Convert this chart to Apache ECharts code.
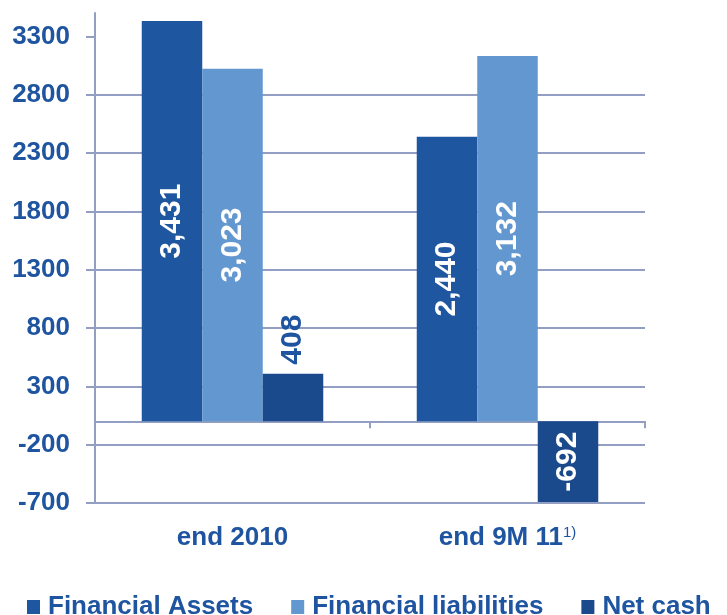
<!DOCTYPE html>
<html>
<head>
<meta charset="utf-8">
<script src="https://cdn.jsdelivr.net/npm/echarts@6/dist/echarts.min.js"></script>
<style>
  html, body { margin: 0; padding: 0; background: #fff; }
  #chart { width: 727px; height: 615px; }
</style>
</head>
<body>
<div id="chart"></div>
<script>
var categories = ['end 2010', 'end 9M 11'];
var categoryNotes = ['', '1)'];
var financialAssets = [3431, 2440];
var financialLiabilities = [3023, 3132];
var netCash = [408, -692];
var yTicks = [-700, -200, 300, 800, 1300, 1800, 2300, 2800, 3300];

var textBlue = '#1f55a0';
var gridColor = '#929fc2';
var font = 'Liberation Sans, Arial, sans-serif';

var chart = echarts.init(document.getElementById('chart'), null, { renderer: 'canvas' });

function fmt(v) {
  return Number(v).toLocaleString('en-US');
}

// inside labels, white, rotated
var insideLabel = {
  show: true,
  position: 'inside',
  rotate: 90,
  color: '#fff',
  fontSize: 30,
  fontWeight: 'bold',
  fontFamily: font,
  formatter: function (p) { return fmt(p.value); }
};

// net cash: positive sits above the bar, negative inside
var netCashData = netCash.map(function (v) {
  if (v >= 0) {
    return {
      value: v,
      label: {
        show: true, position: 'top', distance: 9, rotate: 90,
        align: 'left', verticalAlign: 'middle',
        color: textBlue, fontSize: 30, fontWeight: 'bold', fontFamily: font,
        formatter: function (p) { return fmt(p.value); }
      }
    };
  }
  return {
    value: v,
    label: {
      show: true, position: 'inside', rotate: 90,
      color: '#fff', fontSize: 30, fontWeight: 'bold', fontFamily: font,
      formatter: function (p) { return fmt(p.value); }
    }
  };
});

var option = {
  animation: false,
  color: ['#1f56a0', '#6397cf', '#1a4a8b'],
  grid: {
    left: 95,
    right: 82,
    top: 13,
    bottom: 112
  },
  legend: {
    top: 589,
    left: 22,
    icon: 'rect',
    itemWidth: 13,
    itemHeight: 14,
    itemGap: 38,
    textStyle: {
      color: textBlue,
      fontSize: 26,
      fontWeight: 'bold',
      fontFamily: font,
      padding: [0, 0, 0, 3]
    },
    data: ['Financial Assets', 'Financial liabilities', 'Net cash']
  },
  xAxis: [
    {
      // labels at the bottom of the grid
      type: 'category',
      data: categories,
      position: 'bottom',
      axisLine: { show: false, onZero: false },
      axisTick: { show: false },
      axisLabel: {
        interval: 0,
        margin: 20,
        lineHeight: 30,
        color: textBlue,
        fontSize: 26,
        fontWeight: 'bold',
        fontFamily: font,
        formatter: function (v, i) {
          return categoryNotes[i] ? v + '{sup|' + categoryNotes[i] + '}' : v;
        },
        rich: {
          sup: {
            fontSize: 15,
            fontWeight: 'normal',
            fontFamily: font,
            color: textBlue,
            padding: [0, 0, 11, 0]
          }
        }
      }
    },
    {
      // baseline at zero with category ticks
      type: 'category',
      data: categories,
      position: 'bottom',
      axisLine: { show: true, onZero: true, lineStyle: { color: gridColor, width: 2 } },
      axisTick: { show: true, length: 7, lineStyle: { color: gridColor, width: 2 } },
      axisLabel: { show: false }
    }
  ],
  yAxis: {
    type: 'value',
    min: -700,
    max: 3500,
    interval: 500,
    axisLine: { show: true, lineStyle: { color: gridColor, width: 2 } },
    axisTick: {
      show: true, length: 9, customValues: yTicks,
      lineStyle: { color: gridColor, width: 2 }
    },
    axisLabel: {
      customValues: yTicks,
      margin: 25,
      color: textBlue,
      fontSize: 26,
      fontWeight: 'bold',
      fontFamily: font,
      formatter: function (v) { return String(v); }
    },
    splitLine: {
      show: true,
      showMaxLine: false,
      lineStyle: { color: gridColor, width: 2 }
    }
  },
  series: [
    {
      name: 'Financial Assets',
      type: 'bar',
      data: financialAssets,
      barGap: 0,
      barCategoryGap: '34%',
      label: insideLabel
    },
    {
      name: 'Financial liabilities',
      type: 'bar',
      data: financialLiabilities,
      barGap: 0,
      barCategoryGap: '34%',
      label: insideLabel
    },
    {
      name: 'Net cash',
      type: 'bar',
      data: netCashData,
      barGap: 0,
      barCategoryGap: '34%'
    }
  ]
};

chart.setOption(option);
</script>
</body>
</html>
